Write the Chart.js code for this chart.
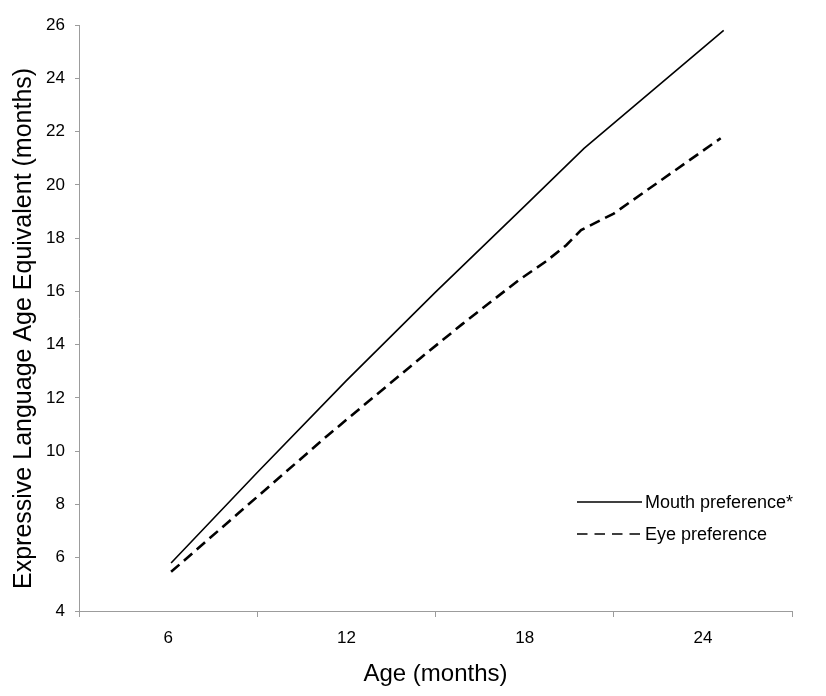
<!DOCTYPE html>
<html>
<head>
<meta charset="utf-8">
<script src="https://cdn.jsdelivr.net/npm/chart.js@4.4.1/dist/chart.umd.min.js"></script>
<style>
  html, body { margin: 0; padding: 0; background: #ffffff; }
  #wrap { width: 826px; height: 696px; }
</style>
</head>
<body>
<div id="wrap"><canvas id="c" width="826" height="696"></canvas></div>
<script>
// ---- Data ----
const seriesLabels = ['Mouth preference*', 'Eye preference'];
const mouthAge = [6.1, 9, 12, 15, 18, 20, 24.7];
const mouthScore = [5.8, 9.2, 12.65, 15.97, 19.2, 21.37, 25.8];
const eyeAge = [6.1, 11.4, 14.5, 15.9, 17.8, 18.7, 19.4, 19.9, 21.0, 24.6];
const eyeScore = [5.47, 10.62, 13.5, 14.77, 16.42, 17.11, 17.73, 18.3, 18.92, 21.75];
const xTickLabels = [6, 12, 18, 24];
const xTitle = 'Age (months)';
const yTitle = 'Expressive Language Age Equivalent (months)';

const FONT = "'Liberation Sans', Arial, Helvetica, sans-serif";
const AXIS = '#9c9c9c';

function pts(xs, ys) { return xs.map((x, i) => ({ x: x, y: ys[i] })); }

const legendPlugin = {
  id: 'insideLegend',
  afterDraw(chart) {
    const ctx = chart.ctx;
    const ca = chart.chartArea;
    const x0 = ca.right - 215, x1 = ca.right - 150, tx = ca.right - 147;
    const rows = [ca.bottom - 109, ca.bottom - 77];
    ctx.save();
    chart.data.datasets.forEach((ds, i) => {
      const y = rows[i];
      ctx.beginPath();
      ctx.strokeStyle = ds.borderColor;
      ctx.lineWidth = 1.5;
      ctx.setLineDash(ds.borderDash && ds.borderDash.length ? [10.5, 7] : []);
      ctx.moveTo(x0, y);
      ctx.lineTo(x1, y);
      ctx.stroke();
      ctx.setLineDash([]);
      ctx.fillStyle = '#000';
      ctx.font = '18px ' + FONT;
      ctx.textAlign = 'left';
      ctx.textBaseline = 'middle';
      ctx.fillText(ds.label, tx, y + 1);
    });
    ctx.restore();
  }
};

new Chart(document.getElementById('c'), {
  type: 'line',
  data: {
    datasets: [
      {
        label: seriesLabels[0],
        data: pts(mouthAge, mouthScore),
        borderColor: '#000000',
        borderWidth: 1.6,
        pointRadius: 0,
        tension: 0,
        fill: false
      },
      {
        label: seriesLabels[1],
        data: pts(eyeAge, eyeScore),
        borderColor: '#000000',
        borderWidth: 2.6,
        borderDash: [11, 6],
        pointRadius: 0,
        tension: 0,
        fill: false
      }
    ]
  },
  options: {
    responsive: false,
    animation: false,
    events: [],
    layout: { padding: { top: 25, right: 34, left: 0, bottom: 0 } },
    plugins: {
      legend: { display: false },
      tooltip: { enabled: false },
      title: { display: false }
    },
    scales: {
      x: {
        type: 'linear',
        min: 3,
        max: 27,
        afterFit(scale) { scale.height = 85; },
        afterBuildTicks(scale) {
          const t = [];
          for (let v = 3; v <= 27; v += 3) t.push({ value: v });
          scale.ticks = t;
        },
        ticks: {
          autoSkip: false,
          maxRotation: 0,
          padding: 11,
          color: '#000',
          font: { family: FONT, size: 17 },
          callback: (v) => (xTickLabels.includes(v) ? String(v) : '')
        },
        grid: {
          drawOnChartArea: false,
          drawTicks: true,
          tickLength: 6,
          lineWidth: 1,
          color: (c) => (c.tick && xTickLabels.includes(c.tick.value) ? 'rgba(0,0,0,0)' : AXIS)
        },
        border: { display: true, color: AXIS, width: 1 },
        title: {
          display: true,
          text: xTitle,
          color: '#000',
          font: { family: FONT, size: 24 },
          padding: { top: 0, bottom: 7 }
        }
      },
      y: {
        type: 'linear',
        min: 4,
        max: 26,
        afterFit(scale) { scale.width = 79; },
        ticks: {
          stepSize: 2,
          padding: 10,
          color: '#000',
          font: { family: FONT, size: 17 }
        },
        grid: {
          drawOnChartArea: false,
          drawTicks: true,
          tickLength: 4,
          lineWidth: 1,
          color: AXIS
        },
        border: { display: true, color: AXIS, width: 1 },
        title: {
          display: true,
          text: yTitle + '   ',
          color: '#000',
          font: { family: FONT, size: 25 },
          padding: { top: 9, bottom: 0 }
        }
      }
    }
  },
  plugins: [legendPlugin]
});
</script>
</body>
</html>
